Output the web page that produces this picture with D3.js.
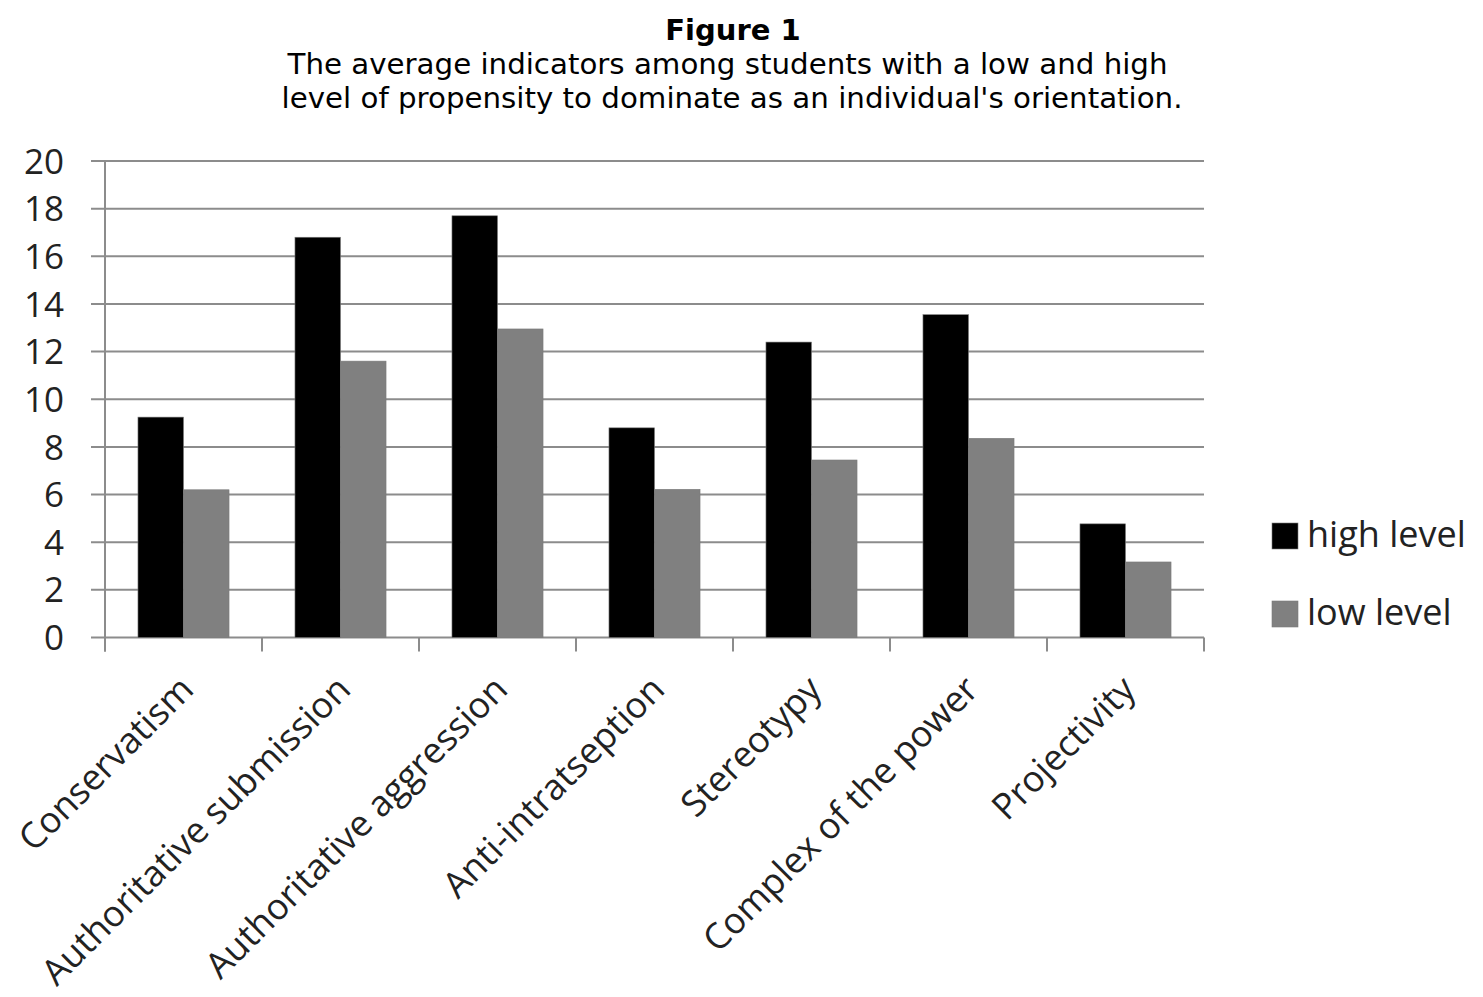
<!DOCTYPE html>
<html>
<head>
<meta charset="utf-8">
<script src="https://cdn.jsdelivr.net/npm/d3@7"></script>
<style>
  body { margin: 0; background: #fff; }
</style>
</head>
<body>
<div id="chart"></div>
<script>
const width = 1483;
const height = 997;

const categories = [
  "Conservatism",
  "Authoritative submission",
  "Authoritative aggression",
  "Anti-intratseption",
  "Stereotypy",
  "Complex of the power",
  "Projectivity"
];
const seriesNames = ["high level", "low level"];
const highLevel = [9.25, 16.8, 17.7, 8.8, 12.4, 13.55, 4.77];
const lowLevel = [6.2, 11.6, 12.95, 6.22, 7.45, 8.36, 3.17];
const yTicks = [0, 2, 4, 6, 8, 10, 12, 14, 16, 18, 20];
const colors = ["#000000", "#808080"];

const labelFont = "'Open Sans', 'Noto Sans', sans-serif";
const titleFont = "'DejaVu Sans', Verdana, sans-serif";

const margin = { left: 105, right: 279, top: 161, bottom: 360 };

const svg = d3.select("#chart").append("svg")
  .attr("width", width)
  .attr("height", height)
  .attr("viewBox", [0, 0, width, height]);

// title
const title = svg.append("g")
  .attr("font-family", titleFont)
  .attr("font-size", 29)
  .attr("text-anchor", "middle")
  .attr("fill", "#000");
title.append("text")
  .attr("x", 733).attr("y", 40)
  .attr("font-weight", "bold")
  .text("Figure 1");
title.append("text")
  .attr("x", 727.5).attr("y", 74)
  .attr("textLength", 880)
  .attr("lengthAdjust", "spacingAndGlyphs")
  .text("The average indicators among students with a low and high");
title.append("text")
  .attr("x", 732).attr("y", 108)
  .attr("textLength", 901)
  .attr("lengthAdjust", "spacingAndGlyphs")
  .text("level of propensity to dominate as an individual's orientation.");

const x0 = d3.scaleBand()
  .domain(categories)
  .range([margin.left, width - margin.right])
  .paddingInner(0.42)
  .paddingOuter(0.21);

const outer = d3.scaleBand()
  .domain(categories)
  .range([margin.left, width - margin.right]);

const x1 = d3.scaleBand()
  .domain(seriesNames)
  .range([0, x0.bandwidth()]);

const y = d3.scaleLinear()
  .domain([0, 20])
  .range([height - margin.bottom + 0.5, margin.top]);

// gridlines
svg.append("g")
  .selectAll("line")
  .data(yTicks)
  .join("line")
  .attr("x1", margin.left - 14)
  .attr("x2", width - margin.right)
  .attr("y1", d => y(d))
  .attr("y2", d => y(d))
  .attr("stroke", "#8c8c8c")
  .attr("stroke-width", 2);

// y axis line
svg.append("line")
  .attr("x1", margin.left).attr("x2", margin.left)
  .attr("y1", y(20)).attr("y2", y(0) + 14)
  .attr("stroke", "#8c8c8c")
  .attr("stroke-width", 2);

// y labels
svg.append("g")
  .attr("font-family", labelFont)
  .attr("font-size", 35)
  .attr("text-anchor", "end")
  .attr("fill", "#222")
  .selectAll("text")
  .data(yTicks)
  .join("text")
  .attr("x", 64)
  .attr("y", d => y(d))
  .attr("dy", "0.36em")
  .text(d => d);

// bars
const groups = svg.append("g")
  .selectAll("g")
  .data(categories.map((c, i) => ({ c, vals: [highLevel[i], lowLevel[i]] })))
  .join("g")
  .attr("transform", d => `translate(${x0(d.c)},0)`);

groups.selectAll("rect")
  .data(d => d.vals.map((v, j) => ({ name: seriesNames[j], v, j })))
  .join("rect")
  .attr("x", d => x1(d.name))
  .attr("width", x1.bandwidth())
  .attr("y", d => y(d.v))
  .attr("height", d => y(0) - y(d.v))
  .attr("fill", d => colors[d.j])
  .attr("stroke", "#7a7a7a")
  .attr("stroke-width", 0.6);

// x axis ticks
const tickPos = categories.map(c => outer(c)).concat([width - margin.right]);
svg.append("g")
  .selectAll("line")
  .data(tickPos)
  .join("line")
  .attr("x1", d => d).attr("x2", d => d)
  .attr("y1", y(0)).attr("y2", y(0) + 14)
  .attr("stroke", "#8c8c8c")
  .attr("stroke-width", 2);

// x labels
svg.append("g")
  .attr("font-family", labelFont)
  .attr("font-size", 36)
  .attr("text-anchor", "end")
  .attr("fill", "#222")
  .selectAll("text")
  .data(categories)
  .join("text")
  .attr("transform", d => `translate(${outer(d) + outer.bandwidth() / 2 + 12},${y(0) + 54}) rotate(-45)`)
  .text(d => d);

// legend
const legend = svg.append("g")
  .attr("font-family", labelFont)
  .attr("font-size", 36)
  .selectAll("g")
  .data(seriesNames)
  .join("g")
  .attr("transform", (d, i) => `translate(1272,${523 + i * 78})`);

legend.append("rect")
  .attr("width", 26).attr("height", 26)
  .attr("fill", (d, i) => colors[i])
  .attr("stroke", "#7a7a7a")
  .attr("stroke-width", 0.6);

legend.append("text")
  .attr("x", 35)
  .attr("y", 24)
  .attr("fill", "#222")
  .text(d => d);
</script>
</body>
</html>
